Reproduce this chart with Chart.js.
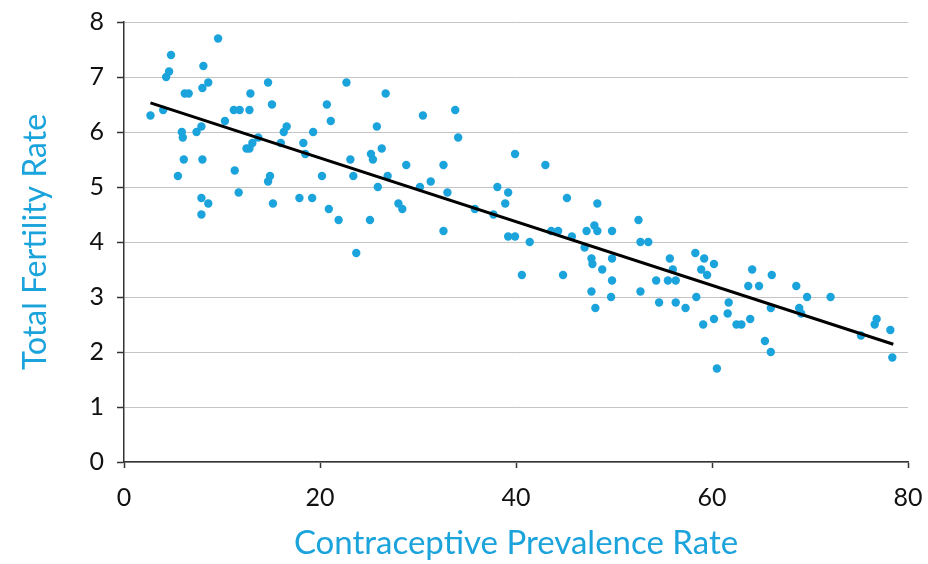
<!DOCTYPE html>
<html>
<head>
<meta charset="utf-8">
<script src="https://cdn.jsdelivr.net/npm/chart.js@4"></script>
<style>
  html, body { margin: 0; padding: 0; background: #fff; }
  #wrap { width: 928px; height: 564px; }
</style>
</head>
<body>
<div id="wrap"><canvas id="fertChart" width="928" height="564"></canvas></div>
<script>
// contraceptive prevalence rate (x) and total fertility rate (y), one entry per country
const cpr = [
  2.7, 4.0, 4.8, 4.6, 4.3, 6.2, 6.6, 5.9, 6.0, 6.1, 5.5, 7.4, 7.9, 8.1, 8.0, 8.6, 8.0, 7.9, 8.6, 7.9,
  9.6, 10.3, 11.2, 11.8, 12.8, 12.9, 14.7, 15.1, 11.3, 11.7, 12.5, 12.8, 13.1, 13.7, 14.9, 14.7, 15.2, 16.0, 16.3, 16.6,
  18.3, 18.5, 19.3, 17.9, 19.2, 20.2, 20.7, 21.1, 22.7, 20.9, 21.9, 23.1, 23.4, 25.1, 25.2, 25.4, 25.8, 25.9, 26.3, 26.7,
  26.9, 28.0, 28.4, 28.8, 30.2, 30.5, 31.3, 32.6, 33.0, 32.6, 33.8, 34.1, 35.8, 37.7, 38.1, 23.7,
  39.9, 39.2, 38.9, 39.2, 39.9, 41.4, 40.6, 43.0, 43.6, 44.3, 45.2, 45.7, 44.8, 47.2, 48.0, 48.3, 48.3, 47.0, 47.7, 47.8,
  49.8, 48.8, 49.8, 49.8, 47.7, 49.7, 48.1, 52.5, 52.7, 53.5, 52.7, 54.3, 54.6, 55.5, 56.3, 55.7, 56.0, 56.3, 57.3, 58.3,
  59.2, 58.9, 59.5, 60.2, 58.4, 59.1, 60.2, 60.5, 61.7, 61.6, 62.5, 63.0, 63.9, 63.7, 64.1, 64.8, 66.1, 66.0, 65.4, 66.0,
  68.6, 68.9, 69.1, 69.7, 72.1, 75.2, 76.6, 76.8, 78.2, 78.4
];
const tfr = [
  6.3, 6.4, 7.4, 7.1, 7.0, 6.7, 6.7, 6.0, 5.9, 5.5, 5.2, 6.0, 6.1, 7.2, 6.8, 6.9, 5.5, 4.8, 4.7, 4.5,
  7.7, 6.2, 6.4, 6.4, 6.4, 6.7, 6.9, 6.5, 5.3, 4.9, 5.7, 5.7, 5.8, 5.9, 5.2, 5.1, 4.7, 5.8, 6.0, 6.1,
  5.8, 5.6, 6.0, 4.8, 4.8, 5.2, 6.5, 6.2, 6.9, 4.6, 4.4, 5.5, 5.2, 4.4, 5.6, 5.5, 6.1, 5.0, 5.7, 6.7,
  5.2, 4.7, 4.6, 5.4, 5.0, 6.3, 5.1, 5.4, 4.9, 4.2, 6.4, 5.9, 4.6, 4.5, 5.0, 3.8,
  5.6, 4.9, 4.7, 4.1, 4.1, 4.0, 3.4, 5.4, 4.2, 4.2, 4.8, 4.1, 3.4, 4.2, 4.3, 4.2, 4.7, 3.9, 3.7, 3.6,
  4.2, 3.5, 3.7, 3.3, 3.1, 3.0, 2.8, 4.4, 4.0, 4.0, 3.1, 3.3, 2.9, 3.3, 3.3, 3.7, 3.5, 2.9, 2.8, 3.8,
  3.7, 3.5, 3.4, 3.6, 3.0, 2.5, 2.6, 1.7, 2.9, 2.7, 2.5, 2.5, 2.6, 3.2, 3.5, 3.2, 3.4, 2.8, 2.2, 2.0,
  3.2, 2.8, 2.7, 3.0, 3.0, 2.3, 2.5, 2.6, 2.4, 1.9
];

// fitted line, end points
const trendX = [2.7, 78.5];
const trendY = [6.53, 2.14];

const xTicks = [0, 20, 40, 60, 80];
const yTicks = [0, 1, 2, 3, 4, 5, 6, 7, 8];

const blue = '#1ba3dc';
const axisColor = '#333333';
const fontFamily = 'Lato, "Noto Sans", sans-serif';

const points = cpr.map((x, i) => ({ x: x, y: tfr[i] }));
const trend = trendX.map((x, i) => ({ x: x, y: trendY[i] }));

const ctx = document.getElementById('fertChart').getContext('2d');

new Chart(ctx, {
  type: 'scatter',
  data: {
    datasets: [
      {
        type: 'line',
        label: 'Trend',
        data: trend,
        borderColor: '#000',
        borderWidth: 3,
        pointRadius: 0,
        fill: false,
        order: 0
      },
      {
        label: 'Countries',
        data: points,
        backgroundColor: blue,
        borderColor: blue,
        pointRadius: 4.2,
        pointBorderWidth: 0,
        order: 1
      }
    ]
  },
  options: {
    responsive: false,
    animation: false,
    devicePixelRatio: 1,
    layout: { padding: { top: 22, right: 20, left: 0, bottom: 0 } },
    plugins: {
      legend: { display: false },
      tooltip: { enabled: false }
    },
    scales: {
      x: {
        type: 'linear',
        min: 0,
        max: 80,
        afterBuildTicks: (axis) => { axis.ticks = xTicks.map(v => ({ value: v })); },
        afterFit: (axis) => {
          axis.height = 102;
          // keep the plot edge where the layout padding puts it
          axis.paddingLeft = 0;
          axis.paddingRight = 0;
        },
        border: { color: axisColor, width: 1.5 },
        grid: {
          drawOnChartArea: false,
          drawTicks: true,
          tickLength: 6,
          tickColor: axisColor,
          tickWidth: 1.5
        },
        ticks: {
          color: '#111',
          padding: 15,
          font: { family: fontFamily, size: 25 }
        },
        title: {
          display: true,
          text: 'Contraceptive Prevalence Rate',
          color: blue,
          padding: { top: 4, bottom: 1 },
          font: { family: fontFamily, size: 33 }
        }
      },
      y: {
        type: 'linear',
        min: 0,
        max: 8,
        afterBuildTicks: (axis) => { axis.ticks = yTicks.map(v => ({ value: v })); },
        afterFit: (axis) => {
          axis.width = 124;
          axis.paddingTop = 0;
          axis.paddingBottom = 0;
        },
        border: { color: axisColor, width: 1.5 },
        grid: {
          color: '#c4c4c4',
          lineWidth: 1,
          borderDash: [1, 2],
          drawTicks: true,
          tickLength: 7,
          tickColor: axisColor,
          tickWidth: 1.5,
          tickBorderDash: []
        },
        ticks: {
          color: '#111',
          padding: 13,
          font: { family: fontFamily, size: 25 }
        },
        title: {
          display: true,
          text: 'Total Fertility Rate',
          color: blue,
          padding: { top: 16, bottom: 0 },
          font: { family: fontFamily, size: 32 }
        }
      }
    }
  }
});
</script>
</body>
</html>
